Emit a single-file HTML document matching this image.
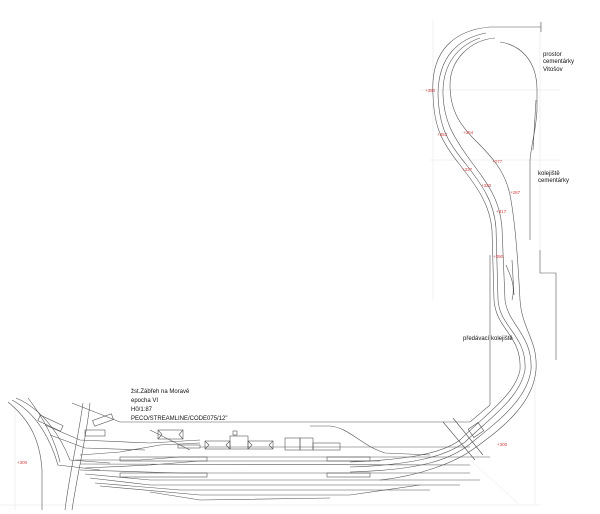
<!DOCTYPE html>
<html><head><meta charset="utf-8"><style>
html,body{margin:0;padding:0;background:#fff;}
svg{display:block;}
text{font-family:"Liberation Sans",sans-serif;}
.r{fill:#d04040;font-size:4.5px;}
.b{fill:#111;font-size:6px;}
</style></head><body>
<svg width="600" height="514" viewBox="0 0 600 514" xmlns="http://www.w3.org/2000/svg">
<g fill="none" stroke="#e4e4e4" stroke-width="0.5">
<line x1="433" y1="20" x2="433" y2="300"/><line x1="540" y1="20" x2="540" y2="250"/>
<line x1="420" y1="90" x2="560" y2="90"/><line x1="430" y1="160" x2="560" y2="160"/>
<line x1="0" y1="505" x2="540" y2="505"/><line x1="535" y1="380" x2="535" y2="505"/>
<line x1="470" y1="460" x2="520" y2="505"/><line x1="15" y1="405" x2="15" y2="510"/>
</g>
<g fill="none" stroke="#555" stroke-width="0.6">
<line x1="490" y1="27" x2="541" y2="27"/><line x1="541" y1="22" x2="541" y2="32"/>
<polyline points="490,255 490,405 470,422 120,422 72,403"/>
<polyline points="540,250 540,273 556,273 556,360"/>
<!-- loop -->
<path d="M490,27 C455,30 430,50 433,95 C434,125 440,140 460,165 C478,188 490,205 492,230 L494,300 C496,330 522,335 520,370 C515,395 485,415 460,440 C440,455 400,460 350,462"/>
<path d="M486,33 C460,38 438,55 438,95 C439,125 446,140 465,163 C483,186 494,202 496,228 L498,300 C500,328 527,335 525,370 C520,398 490,418 465,442 C445,457 410,465 350,467"/>
<path d="M480,38 C460,45 442,62 443,95 C444,120 452,135 470,160 C488,184 500,200 502,228 L505,300 C508,325 533,335 531,370 C527,400 497,422 470,444 C450,460 420,470 350,472"/>
<path d="M495,38 C470,40 450,60 450,85 C450,110 460,125 475,140 C490,155 505,170 510,195 C515,220 518,260 520,300 C522,330 538,340 536,370 C533,405 500,430 472,450 C455,462 420,476 380,480"/>
<path d="M500,42 C520,45 537,60 537,90 L537,110 C536,130 532,140 530,160 L530,240"/>
<line x1="536" y1="100" x2="533" y2="150"/>
<line x1="512" y1="260" x2="514" y2="295"/>
<path d="M506,265 C510,275 516,285 512,300"/>
<!-- bridges -->
<line x1="443" y1="422" x2="475" y2="460"/><line x1="453" y1="418" x2="483" y2="455"/>
<path d="M83,403 C78,440 70,470 65,510"/><path d="M90,403 C86,440 78,470 72,510"/>
<!-- left curves -->
<path d="M8,402 C30,420 40,440 42,470 L42,510"/>
<path d="M12,400 C40,415 52,445 58,465 L100,470"/>
<path d="M16,398 C45,410 62,440 70,460 L110,463"/>
<path d="M28,398 C45,420 55,440 60,462"/>
<!-- fan tracks -->
<path d="M45,425 L80,440 L150,443 L200,440"/>
<path d="M50,435 L85,448 L145,450"/>
<path d="M80,455 L120,452 L160,445 L200,443"/>
<path d="M75,460 L140,460 L180,457 L490,457"/>
<path d="M80,464 L470,465"/>
<path d="M85,468 L150,465 L200,461 L380,461"/>
<path d="M80,470 L180,473 L470,473"/>
<path d="M85,474 L150,480 L480,480"/>
<path d="M90,478 L150,485 L460,485"/>
<path d="M95,483 L180,490 L430,490"/>
<path d="M100,486 L200,495 L350,495 L420,485"/>
<path d="M150,492 L200,500 L330,498"/>
<line x1="200" y1="447" x2="470" y2="447"/>
<path d="M150,430 L170,440 L190,450"/>
<path d="M310,426 L330,426 C350,428 360,445 385,453 L430,455"/>
<!-- buildings -->
<rect x="158" y="430" width="25" height="9"/>
<polyline points="158,430 162,434.5 158,439"/><polyline points="183,430 179,434.5 183,439"/>
<rect x="205" y="441" width="25" height="8"/><rect x="230" y="436" width="18" height="13"/>
<rect x="233" y="431" width="4" height="4"/><rect x="248" y="441" width="25" height="8"/>
<polyline points="205,441 209,445 205,449"/><polyline points="230,441 226,445 230,449"/>
<polyline points="248,441 252,445 248,449"/><polyline points="273,441 269,445 273,449"/>
<rect x="285" y="438" width="15" height="12"/><rect x="300" y="438" width="13" height="12"/>
<rect x="313" y="443" width="27" height="7"/>
<rect x="120" y="457" width="87" height="4"/><rect x="327" y="457" width="43" height="4"/>
<rect x="120" y="473" width="87" height="4"/><rect x="327" y="473" width="43" height="4"/>
<rect x="178" y="445" width="22" height="3"/>
<rect x="38" y="420" width="25" height="6" transform="rotate(25 50 423)"/>
<rect x="93" y="417" width="20" height="6" transform="rotate(-20 103 420)"/>
<rect x="85" y="430" width="20" height="6"/>
<rect x="470" y="425" width="12" height="10" transform="rotate(-35 476 430)"/>
</g>
<g class="r">
<text x="425" y="92">+390</text><text x="437" y="136">+353</text><text x="463" y="134">+364</text>
<text x="492" y="163">+277</text><text x="462" y="171">+337</text><text x="481" y="187">+320</text>
<text x="510" y="194">+287</text><text x="496" y="213">+317</text><text x="493" y="258">+390</text>
<text x="497" y="446">+300</text><text x="17" y="464">+300</text>
</g>
<g class="b">
<text x="543" y="56">prostor</text><text x="543" y="63">cementárky</text><text x="543" y="71">Vitošov</text>
<text x="538" y="175">kolejiště</text><text x="538" y="182">cementárky</text>
<text x="463" y="340">předávací kolejiště</text>
<text x="131" y="393">žst.Zábřeh na Moravě</text><text x="131" y="402">epocha VI</text>
<text x="131" y="411">H0/1:87</text><text x="131" y="420">PECO/STREAMLINE/CODE075/12"</text>
</g>
</svg>
</body></html>
